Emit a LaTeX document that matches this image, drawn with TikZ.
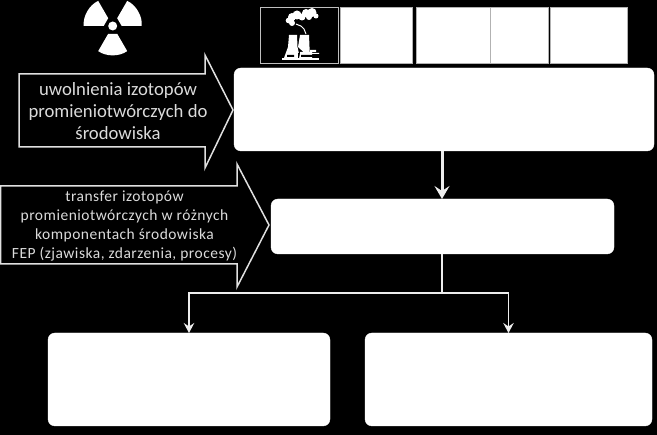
\documentclass[tikz,border=0pt]{standalone}
\usepackage{fontspec}
\setmainfont{Carlito}
\newfontfamily\spaced[LetterSpace=3.2]{Carlito}
\usetikzlibrary{arrows.meta,calc}
\definecolor{txt}{gray}{0.86}
\tikzset{
  x=1pt,y=-1pt,
  wbox/.style={draw=white,fill=white,rounded corners=7pt,minimum width=#1,inner sep=0pt,outer sep=0pt},
  strip/.style={draw=white!70!black,line width=0.8pt,fill=white,inner sep=0pt,outer sep=0pt,minimum height=56pt},
  outl/.style={draw=white!88!black,line width=1.5pt,fill=black,line join=miter},
  lab/.style={text=txt,align=center,inner sep=0pt},
  conn/.style={draw=white!93!black,line width=1.9pt},
  tip/.style={-{Stealth[length=10pt,width=10.5pt,inset=3.5pt]}},
  bigtip/.style={-{Stealth[length=13pt,width=15pt,inset=5pt]}},
  icon/.style={fill=white,draw=none},
}
\newcommand{\blade}[1]{%
  \fill[white] ($(112.7,26)+(#1-30:9)$) -- ($(112.7,26)+(#1-30:29)$)
    .. controls ($(112.7,26)+(#1-12:31.5)$) and ($(112.7,26)+(#1+12:31.5)$) .. ($(112.7,26)+(#1+30:29)$)
    -- ($(112.7,26)+(#1+30:9)$) -- cycle;}
\begin{document}
\begin{tikzpicture}
\useasboundingbox (0,0) rectangle (657,435);
\fill[black] (0,0) rectangle (657,435);
% radiation
\blade{90}
\blade{210}
\blade{330}
\node[circle,fill=white,minimum size=9pt,inner sep=0pt] (core) at (112.7,26) {};
% strip
\node[draw=white!75!black,line width=0.9pt,fill=black,minimum width=78pt,minimum height=56pt,inner sep=0pt] (s1) at (299,35) {};
\node[strip,minimum width=72pt] (s2) at (376,35) {};
\node[strip,minimum width=74pt] (s3) at (453,35) {};
\node[strip,minimum width=58pt] (s4) at (519.5,35) {};
\node[strip,minimum width=77pt] (s5) at (588.5,35) {};
% power plant icon
\fill[icon] (292,23) circle (3) (288.5,20.5) circle (2.8) (292,17) circle (4) (297,15) circle (4.5) (302,17) circle (3.5)
  (306,13) circle (4) (312,12.5) circle (4.5) (316,16) circle (2.5) (309,17) circle (3);
\draw[white,line width=1pt] (296,24) .. controls (300,26) and (303,26) .. (304,29) (304,29) -- (306,34);
\fill[icon] (284,58) -- (288,47) -- (289,35) -- (297,35) -- (297.5,47) -- (300,58) -- cycle;
\fill[icon] (298,47) -- (300,35) -- (309,35) -- (309.5,47) -- (310,58) -- cycle;
\fill[icon] (300,52) rectangle (312,58) (310,50) rectangle (316,52) (310,53) rectangle (319,54);
\fill[icon] (282,58) rectangle (319,60);
\fill[black] (287,55) rectangle (294,57) (301,55) rectangle (313,57) (298,53) rectangle (299,58);
% big arrows
\draw[outl] (19,74) -- (205,74) -- (205,55) -- (233,110) -- (205,168) -- (205,147) -- (19,147) -- cycle;
\draw[outl] (0.5,186) -- (237,186) -- (237,164) -- (269,225) -- (237,287) -- (237,264) -- (0.5,264) -- cycle;
\node[lab,font=\fontsize{18.7}{22}\selectfont] (t1) at (118,111.5) {uwolnienia izotopów\\promieniotwórczych do\\środowiska};
\node[lab,font=\spaced\fontsize{15.5}{19}\selectfont] (t2) at (124.5,225.5) {transfer izotopów\\promieniotwórczych w różnych\\komponentach środowiska\\FEP (zjawiska, zdarzenia, procesy)};
% boxes
\node[wbox=420pt,minimum height=83pt] (top) at (444,109.5) {};
\node[wbox=343pt,minimum height=55pt] (mid) at (442.5,226.5) {};
\node[wbox=282pt,minimum height=93pt] (bl) at (189,379.5) {};
\node[wbox=287pt,minimum height=93pt] (br) at (508.5,379.5) {};
% connectors
\coordinate (branch) at (442,293);
\draw[conn,line width=3pt,bigtip] (top.south -| branch) -- (mid.north -| branch);
\draw[conn] (mid.south -| branch) -- (branch);
\draw[conn,tip] (branch) -| (bl.north);
\draw[conn,tip] (branch) -| (br.north);
\end{tikzpicture}
\end{document}
